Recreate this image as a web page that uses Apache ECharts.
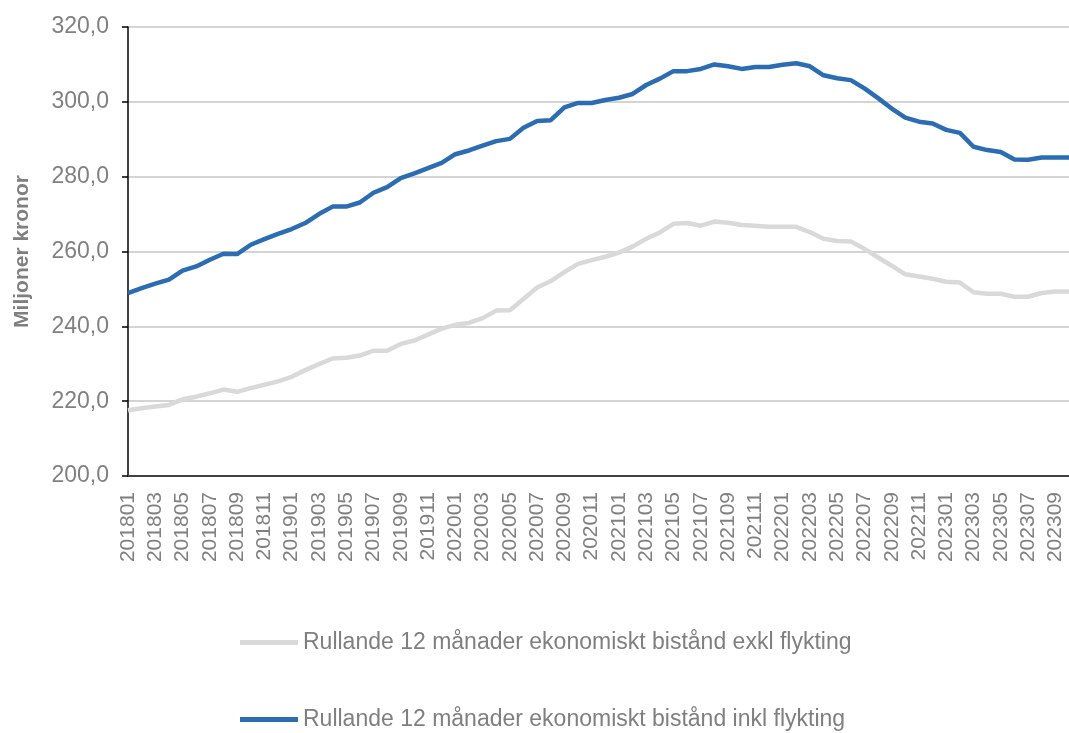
<!DOCTYPE html>
<html>
<head>
<meta charset="utf-8">
<script src="https://cdn.jsdelivr.net/npm/echarts@6/dist/echarts.min.js"></script>
<style>
html,body{margin:0;padding:0;background:#fff;}
#chart{width:1069px;height:733px;}
</style>
</head>
<body>
<div id="chart"></div>
<script>
var categories = [
"201801","201802","201803","201804","201805","201806","201807","201808","201809","201810","201811","201812",
"201901","201902","201903","201904","201905","201906","201907","201908","201909","201910","201911","201912",
"202001","202002","202003","202004","202005","202006","202007","202008","202009","202010","202011","202012",
"202101","202102","202103","202104","202105","202106","202107","202108","202109","202110","202111","202112",
"202201","202202","202203","202204","202205","202206","202207","202208","202209","202210","202211","202212",
"202301","202302","202303","202304","202305","202306","202307","202308","202309","202310"
];
var exklFlykting = [
217.6,218.1,218.6,219.0,220.5,221.2,222.1,223.1,222.5,223.5,224.4,225.3,
226.5,228.3,229.9,231.4,231.6,232.2,233.5,233.5,235.3,236.2,237.8,239.4,
240.4,240.9,242.2,244.2,244.3,247.3,250.4,252.1,254.5,256.7,257.7,258.6,
259.7,261.3,263.4,265.1,267.4,267.6,266.9,268.0,267.7,267.1,266.9,266.6,
266.6,266.6,265.2,263.4,262.8,262.7,260.7,258.4,256.2,253.9,253.3,252.7,
251.9,251.7,249.1,248.7,248.7,247.9,247.9,248.9,249.3,249.3
];
var inklFlykting = [
248.9,250.2,251.4,252.5,254.9,256.0,257.8,259.4,259.3,261.8,263.3,264.7,
266.0,267.6,270.0,272.0,272.0,273.1,275.7,277.2,279.6,280.9,282.3,283.7,
286.0,287.0,288.3,289.5,290.1,293.1,294.9,295.1,298.5,299.7,299.7,300.5,
301.1,302.1,304.5,306.2,308.2,308.2,308.8,310.0,309.5,308.8,309.3,309.3,
309.9,310.3,309.5,307.1,306.3,305.8,303.6,301.0,298.2,295.8,294.7,294.2,
292.5,291.7,288.0,287.1,286.6,284.6,284.5,285.1,285.1,285.1
];
var seriesNames = [
"Rullande 12 månader ekonomiskt bistånd exkl flykting",
"Rullande 12 månader ekonomiskt bistånd inkl flykting"
];

var FONT = 'Liberation Sans, Arial, sans-serif';
function makeLegend(name, top) {
  return {
    orient: 'vertical',
    left: 240,
    top: top,
    padding: 0,
    itemWidth: 58,
    itemHeight: 5,
    icon: 'rect',
    textStyle: { color: '#7f7f7f', fontSize: 23, fontFamily: FONT },
    data: [name]
  };
}

var chart = echarts.init(document.getElementById('chart'));
chart.setOption({
  animation: false,
  backgroundColor: '#ffffff',
  textStyle: { fontFamily: FONT },
  grid: { left: 128, right: -5, top: 27, bottom: 257, containLabel: false },
  legend: [makeLegend(seriesNames[0], 631), makeLegend(seriesNames[1], 708)],
  xAxis: {
    type: 'category',
    boundaryGap: false,
    data: categories,
    axisLine: { show: true, lineStyle: { color: '#404040', width: 2 } },
    axisTick: { show: false },
    splitLine: { show: false },
    axisLabel: {
      interval: 1,
      rotate: 90,
      margin: 16,
      color: '#808080',
      fontSize: 21,
      fontFamily: FONT
    }
  },
  yAxis: {
    type: 'value',
    min: 200,
    max: 320,
    interval: 20,
    name: 'Miljoner kronor',
    nameLocation: 'middle',
    nameRotate: 90,
    nameGap: 95,
    nameTextStyle: { color: '#7f7f7f', fontSize: 21, fontWeight: 'bold', fontFamily: FONT },
    axisLine: { show: true, lineStyle: { color: '#000000', width: 1.5 } },
    axisTick: { show: true, length: 6, lineStyle: { color: '#000000', width: 1.5 } },
    splitLine: { show: true, lineStyle: { color: '#c6c6c6', width: 1.5 } },
    axisLabel: {
      margin: 19,
      color: '#808080',
      fontSize: 23,
      fontFamily: FONT,
      formatter: function (v) { return v.toFixed(1).replace('.', ','); }
    }
  },
  series: [
    {
      name: seriesNames[0],
      type: 'line',
      data: exklFlykting,
      symbol: 'none',
      lineStyle: { color: '#d9d9d9', width: 4.5 },
      itemStyle: { color: '#d9d9d9' }
    },
    {
      name: seriesNames[1],
      type: 'line',
      data: inklFlykting,
      symbol: 'none',
      lineStyle: { color: '#2b6cb3', width: 4.5 },
      itemStyle: { color: '#2b6cb3' }
    }
  ]
});
</script>
</body>
</html>
